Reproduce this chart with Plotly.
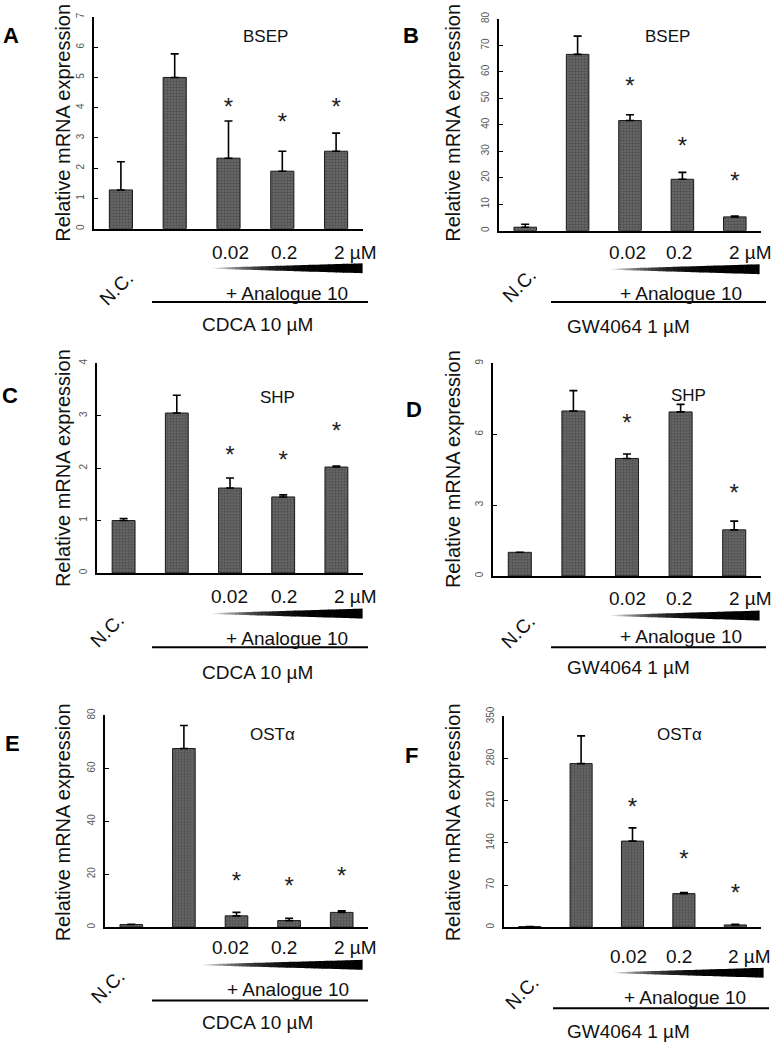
import plotly.graph_objects as go

W, H = 773, 1042
FONT = "Arial, Liberation Sans, sans-serif"

# ---------------- data ----------------
categories = ["N.C.", "Agonist", "0.02 µM", "0.2 µM", "2 µM"]
dose_labels = ["0.02", "0.2", "2 µM"]

bsep_cdca = [1.28, 5.00, 2.33, 1.90, 2.56]
bsep_cdca_err = [0.93, 0.78, 1.23, 0.66, 0.60]
bsep_cdca_star = [None, None, 3.96, 3.47, 3.96]

bsep_gw = [1.3, 66.6, 41.6, 19.4, 5.2]
bsep_gw_err = [1.1, 6.9, 2.2, 2.6, 0.3]
bsep_gw_star = [None, None, 53.9, 31.4, 17.9]

shp_cdca = [1.00, 3.05, 1.62, 1.45, 2.02]
shp_cdca_err = [0.04, 0.34, 0.19, 0.04, 0.02]
shp_cdca_star = [None, None, 2.21, 2.11, 2.66]

shp_gw = [1.00, 6.98, 4.97, 6.94, 1.95]
shp_gw_err = [0.0, 0.86, 0.19, 0.32, 0.37]
shp_gw_star = [None, None, 6.4, None, 3.43]

ost_cdca = [1.0, 67.5, 4.3, 2.5, 5.6]
ost_cdca_err = [0.1, 8.7, 1.3, 0.9, 0.6]
ost_cdca_star = [None, None, 16.8, 15.0, 18.7]

ost_gw = [1.0, 271.7, 143.0, 55.8, 3.8]
ost_gw_err = [0.0, 46.0, 22.0, 1.6, 1.2]
ost_gw_star = [None, None, 197.0, 110.0, 54.0]

# ---------------- layout geometry (pixels) ----------------
panels = [
    dict(letter="A", title="BSEP", vals=bsep_cdca, err=bsep_cdca_err, star=bsep_cdca_star,
         ymax=7, dtick=1, agonist="CDCA 10 µM",
         x0=94, x1=363, ytop=7, ybot=221,
         tx=265, ty=27, lx=11, ly=26, yx=63, yy=114,
         dy=245, dx=[230, 284, 355], wx0=213, wx1=362, wy=261,
         nx=116, ny=281, ax=287, ay=287, lx0=152, lx1=368, lny=295, gx=257, gy=318),
    dict(letter="B", title="BSEP", vals=bsep_gw, err=bsep_gw_err, star=bsep_gw_star,
         ymax=80, dtick=10, agonist="GW4064 1 µM",
         x0=499, x1=761, ytop=9, ybot=223,
         tx=667, ty=27, lx=411, ly=26, yx=453, yy=114,
         dy=245, dx=[627, 679, 750], wx0=611, wx1=759, wy=262,
         nx=519, ny=278, ax=681, ay=287, lx0=551, lx1=766, lny=295, gx=628, gy=320),
    dict(letter="C", title="SHP", vals=shp_cdca, err=shp_cdca_err, star=shp_cdca_star,
         ymax=4, dtick=1, agonist="CDCA 10 µM",
         x0=97, x1=363, ytop=357, ybot=569,
         tx=277, ty=392, lx=10, ly=390, yx=63, yy=463,
         dy=593, dx=[229, 284, 355], wx0=213, wx1=362, wy=610,
         nx=107, ny=627, ax=287, ay=635, lx0=152, lx1=368, lny=644, gx=257, gy=670),
    dict(letter="D", title="SHP", vals=shp_gw, err=shp_gw_err, star=shp_gw_star,
         ymax=9, dtick=3, agonist="GW4064 1 µM",
         x0=493, x1=761, ytop=357, ybot=572,
         tx=688, ty=390, lx=414, ly=404, yx=453, yy=464,
         dy=595, dx=[627, 679, 750], wx0=611, wx1=759, wy=612,
         nx=518, ny=628, ax=681, ay=633, lx0=551, lx1=766, lny=644, gx=628, gy=665),
    dict(letter="E", title="OSTα", vals=ost_cdca, err=ost_cdca_err, star=ost_cdca_star,
         ymax=80, dtick=20, agonist="CDCA 10 µM",
         x0=105, x1=368, ytop=713, ybot=927,
         tx=272, ty=732, lx=12, ly=741, yx=63, yy=821,
         dy=948, dx=[230, 284, 355], wx0=203, wx1=362, wy=965,
         nx=108, ny=987, ax=288, ay=990, lx0=152, lx1=368, lny=1001, gx=257, gy=1023),
    dict(letter="F", title="OSTα", vals=ost_gw, err=ost_gw_err, star=ost_gw_star,
         ymax=350, dtick=70, agonist="GW4064 1 µM",
         x0=504, x1=761, ytop=714, ybot=927,
         tx=679, ty=732, lx=411, ly=753, yx=453, yy=821,
         dy=957, dx=[628, 679, 749], wx0=614, wx1=763, wy=973,
         nx=522, ny=993, ax=685, ay=998, lx0=553, lx1=769, lny=1009, gx=628, gy=1032),
]


def px(x):
    return x / W


def py(y):
    return 1 - y / H


fig = go.Figure()
annotations = []
shapes = []

for i, p in enumerate(panels):
    n = i + 1
    xa = "x" if n == 1 else f"x{n}"
    ya = "y" if n == 1 else f"y{n}"
    xkey = "xaxis" if n == 1 else f"xaxis{n}"
    ykey = "yaxis" if n == 1 else f"yaxis{n}"

    fig.add_trace(go.Bar(
        x=categories, y=p["vals"], xaxis=xa, yaxis=ya,
        marker=dict(color="#707070",
                    pattern=dict(shape=".", fgcolor="#2e2e2e", size=3, solidity=0.6),
                    line=dict(color="#1a1a1a", width=1)),
        error_y=dict(type="data", symmetric=False, array=p["err"],
                     arrayminus=[0] * len(p["err"]), color="black",
                     thickness=1.6, width=4),
        showlegend=False,
    ))
    sx = [c for c, s in zip(categories, p["star"]) if s is not None]
    sy = [s for s in p["star"] if s is not None]
    fig.add_trace(go.Scatter(
        x=sx, y=sy, xaxis=xa, yaxis=ya, mode="text", text=["*"] * len(sx),
        textposition="middle center",
        textfont=dict(family=FONT, size=24, color="#222"),
        showlegend=False, hoverinfo="skip",
    ))

    fig.update_layout(**{
        xkey: dict(domain=[px(p["x0"]), px(p["x1"])], anchor=ya,
                   type="category", range=[-0.5, 4.5],
                   showline=True, linecolor="black", linewidth=1.5,
                   showticklabels=False, ticks="", showgrid=False, zeroline=False,
                   fixedrange=True),
        ykey: dict(domain=[py(p["ybot"]), py(p["ytop"])], anchor=xa,
                   range=[0, p["ymax"]], tick0=0, dtick=p["dtick"],
                   showline=True, linecolor="black", linewidth=1.5,
                   ticks="inside", ticklen=4, tickwidth=1.2, tickcolor="black",
                   tickangle=-90, ticklabelstandoff=4,
                   tickfont=dict(family=FONT, size=10, color="#555"),
                   showgrid=False, zeroline=False, fixedrange=True),
    })

    def ann(text, x, y, size, bold=False, angle=0, color="#111"):
        annotations.append(dict(
            text=f"<b>{text}</b>" if bold else text,
            x=px(x), y=py(y), xref="paper", yref="paper",
            xanchor="center", yanchor="middle", showarrow=False,
            textangle=angle, font=dict(family=FONT, size=size, color=color)))

    ann(p["title"], p["tx"], p["ty"], 17)
    ann(p["letter"], p["lx"], p["ly"], 22, bold=True, color="black")
    ann("Relative mRNA expression", p["yx"], p["yy"], 20, angle=-90)
    for lab, dxp in zip(dose_labels, p["dx"]):
        ann(lab, dxp, p["dy"], 19)
    ann("N.C.", p["nx"], p["ny"], 19, angle=-45)
    ann("+ Analogue 10", p["ax"], p["ay"], 19)
    ann(p["agonist"], p["gx"], p["gy"], 19)

    shapes.append(dict(type="line", xref="paper", yref="paper",
                       x0=px(p["lx0"]), x1=px(p["lx1"]),
                       y0=py(p["lny"]), y1=py(p["lny"]),
                       line=dict(color="black", width=2)))

    # gradient wedge (dose ramp)
    N = 40
    L = p["wx1"] - p["wx0"]
    for k in range(N):
        t0, t1 = k / N, (k + 1) / N
        xa0 = p["wx0"] + t0 * L
        xa1 = p["wx0"] + t1 * L + 0.6
        h0 = 0.5 + 4.5 * t0
        h1 = 0.5 + 4.5 * t1
        tm = (t0 + t1) / 2
        g = int(round(245 * (1 - tm) ** 4))
        col = f"rgb({g},{g},{g})"
        path = (f"M {px(xa0)},{py(p['wy'] - h0)} L {px(xa1)},{py(p['wy'] - h1)} "
                f"L {px(xa1)},{py(p['wy'] + h1)} L {px(xa0)},{py(p['wy'] + h0)} Z")
        shapes.append(dict(type="path", xref="paper", yref="paper", path=path,
                           fillcolor=col, line=dict(width=0)))

fig.update_layout(
    width=W, height=H, margin=dict(l=0, r=0, t=0, b=0),
    paper_bgcolor="white", plot_bgcolor="white",
    bargap=0.57, annotations=annotations, shapes=shapes,
    font=dict(family=FONT),
)

fig.write_html("out.html", config={"displayModeBar": False},
               post_script="document.body.style.margin='0';document.body.style.overflow='hidden';")
